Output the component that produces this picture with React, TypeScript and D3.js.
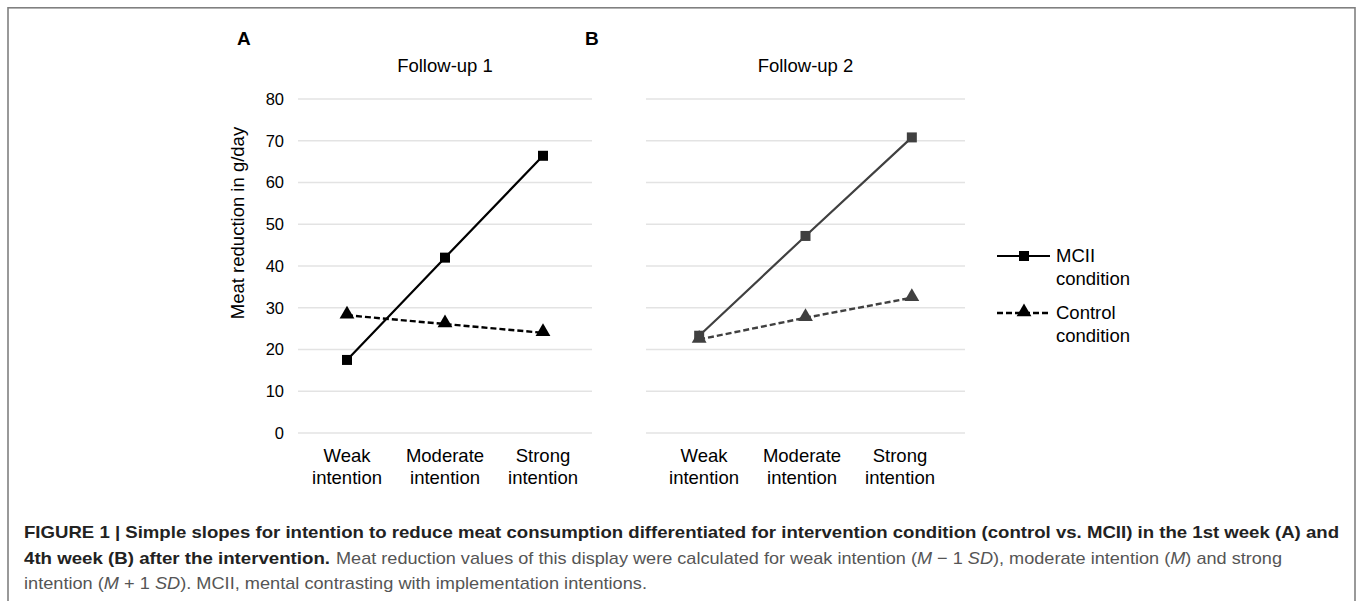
import * as d3 from 'd3';
import React from 'react';

// data
const categories = ['Weak intention', 'Moderate intention', 'Strong intention'];
const yTicks = [0, 10, 20, 30, 40, 50, 60, 70, 80];
const mciiFollowUp1 = [17.5, 42, 66.4];
const controlFollowUp1 = [28.2, 26.1, 24];
const mciiFollowUp2 = [23.3, 47.2, 70.8];
const controlFollowUp2 = [22.4, 27.6, 32.4];

const FONT = '"Liberation Sans", Arial, Helvetica, sans-serif';
const W = 1357;
const H = 601;

const y = d3.scaleLinear().domain([0, 80]).range([433, 99]);

interface IPanel {
  letter: string;
  title: string;
  x0: number;
  x1: number;
  labelX0: number;
  labelX1: number;
  mcii: number[];
  control: number[];
  color: string;
  showAxis: boolean;
}

const square = (cx: number, cy: number, color: string, key?: string) => (
  <rect key={key} x={cx - 5} y={cy - 5} width={10} height={10} fill={color} />
);

const triangle = d3.symbol().type(d3.symbolTriangle).size(95);

const Panel: React.FC<IPanel> = ({ letter, title, x0, x1, labelX0, labelX1, mcii, control, color, showAxis }) => {
  const x = d3.scaleBand<string>().domain(categories).range([x0, x1]);
  const cx = (c: string) => (x(c) || 0) + x.bandwidth() / 2;
  const labelX = d3.scalePoint<string>().domain(categories).range([labelX0, labelX1]);
  const line = d3
    .line<number>()
    .x((_, i) => cx(categories[i]))
    .y(d => y(d));

  return (
    <g>
      <text x={x0 - 61} y={45} fontSize={19} fontWeight="bold" fill="#000">
        {letter}
      </text>
      <text x={(x0 + x1) / 2} y={72} fontSize={18.5} textAnchor="middle" fill="#000">
        {title}
      </text>
      {yTicks.map(t => (
        <line key={t} x1={x0} x2={x1} y1={y(t)} y2={y(t)} stroke="#e3e3e3" strokeWidth={1.3} />
      ))}
      {showAxis &&
        yTicks.map(t => (
          <text key={`l${t}`} x={x0 - 14} y={y(t)} dy="0.35em" fontSize={16.5} textAnchor="end" fill="#000">
            {t}
          </text>
        ))}
      {showAxis && (
        <text
          transform={`translate(${x0 - 60},223) rotate(-90)`}
          dy="0.35em"
          fontSize={18.5}
          textAnchor="middle"
          fill="#000"
        >
          Meat reduction in g/day
        </text>
      )}
      {categories.map(c => {
        const [a, b] = c.split(' ');
        return (
          <text key={c} x={labelX(c)} y={462} fontSize={18.5} textAnchor="middle" fill="#000">
            <tspan x={labelX(c)}>{a}</tspan>
            <tspan x={labelX(c)} dy={21.5}>
              {b}
            </tspan>
          </text>
        );
      })}
      <path d={line(control) || ''} fill="none" stroke={color} strokeWidth={2.4} strokeDasharray="6,3" />
      <path d={line(mcii) || ''} fill="none" stroke={color} strokeWidth={2.2} />
      {mcii.map((v, i) => square(cx(categories[i]), y(v), color, `s${i}`))}
      {control.map((v, i) => (
        <path
          key={`t${i}`}
          d={triangle() || ''}
          transform={`translate(${cx(categories[i])},${y(v) - 1})`}
          fill={color}
        />
      ))}
    </g>
  );
};

const Legend: React.FC = () => (
  <g fontSize={18.5} fill="#000">
    <line x1={997} x2={1050} y1={256} y2={256} stroke="#000" strokeWidth={2.2} />
    {square(1024, 256, '#000')}
    <text x={1056} y={256} dy="0.35em">
      MCII
    </text>
    <text x={1056} y={279} dy="0.35em">
      condition
    </text>
    <line x1={997} x2={1050} y1={313} y2={313} stroke="#000" strokeWidth={2.4} strokeDasharray="6,3" />
    <path d={triangle() || ''} transform="translate(1024,312)" fill="#000" />
    <text x={1056} y={313} dy="0.35em">
      Control
    </text>
    <text x={1056} y={336} dy="0.35em">
      condition
    </text>
  </g>
);

const Caption: React.FC = () => (
  <g fontSize={17}>
    <text x={24} y={538} fontWeight="bold" fill="#222" textLength={1315} lengthAdjust="spacingAndGlyphs">
      FIGURE 1 | Simple slopes for intention to reduce meat consumption differentiated for intervention condition
      (control vs. MCII) in the 1st week (A) and
    </text>
    <text x={24} y={564} fontWeight="bold" fill="#222" textLength={306} lengthAdjust="spacingAndGlyphs">
      4th week (B) after the intervention.
    </text>
    <text x={336} y={564} fill="#555" textLength={946} lengthAdjust="spacingAndGlyphs">
      Meat reduction values of this display were calculated for weak intention (<tspan fontStyle="italic">M</tspan> − 1{' '}
      <tspan fontStyle="italic">SD</tspan>), moderate intention (<tspan fontStyle="italic">M</tspan>) and strong
    </text>
    <text x={24} y={589} fill="#555" textLength={623} lengthAdjust="spacingAndGlyphs">
      intention (<tspan fontStyle="italic">M</tspan> + 1 <tspan fontStyle="italic">SD</tspan>). MCII, mental
      contrasting with implementation intentions.
    </text>
  </g>
);

export default function App() {
  return (
    <svg
      width={W}
      height={H}
      viewBox={`0 0 ${W} ${H}`}
      style={{ position: 'absolute', left: 0, top: 0, background: '#fff' }}
      fontFamily={FONT}
    >
      <rect x={0} y={0} width={W} height={H} fill="#fff" />
      <rect x={8} y={7.8} width={1347} height={620} fill="none" stroke="#808080" strokeWidth={1.6} />
      <Panel
        letter="A"
        title="Follow-up 1"
        x0={298}
        x1={592}
        labelX0={347}
        labelX1={543}
        mcii={mciiFollowUp1}
        control={controlFollowUp1}
        color="#000"
        showAxis
      />
      <Panel
        letter="B"
        title="Follow-up 2"
        x0={646}
        x1={965}
        labelX0={704}
        labelX1={900}
        mcii={mciiFollowUp2}
        control={controlFollowUp2}
        color="#404040"
        showAxis={false}
      />
      <Legend />
      <Caption />
    </svg>
  );
}
